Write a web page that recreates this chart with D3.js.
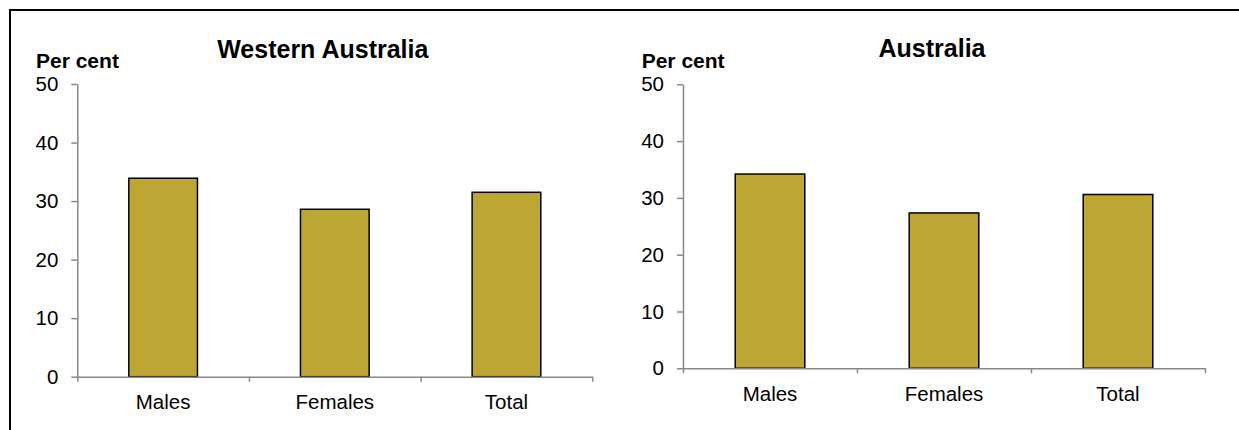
<!DOCTYPE html>
<html>
<head>
<meta charset="utf-8">
<script src="https://cdn.jsdelivr.net/npm/d3@7"></script>
<style>
  html, body { margin: 0; padding: 0; background: #fff; }
  svg { display: block; }
  text { font-family: "Liberation Sans", Arial, sans-serif; fill: #000; }
</style>
</head>
<body>
<svg id="chart" width="1239" height="430"></svg>
<script>
// ---- Data ----
const categories = ["Males", "Females", "Total"];
const waValues = [33.9, 28.6, 31.5];
const ausValues = [34.2, 27.35, 30.6];
const panelTitles = ["Western Australia", "Australia"];
const yTicks = [0, 10, 20, 30, 40, 50];
const yLabel = "Per cent";

// ---- Layout ----
const panels = [
  { title: panelTitles[0], values: waValues, x0: 77.3, x1: 592.3, yTop: 84, yBottom: 376.7, titleY: 58.3 },
  { title: panelTitles[1], values: ausValues, x0: 683, x1: 1205, yTop: 84.3, yBottom: 368.3, titleY: 57.3 }
];

const svg = d3.select("#chart");

// outer frame (left and top visible)
svg.append("rect")
  .attr("x", 10).attr("y", 10)
  .attr("width", 1250).attr("height", 440)
  .attr("fill", "none").attr("stroke", "#000").attr("stroke-width", 2);

const axisColor = "#888888";
const font = '"Liberation Sans", Arial, sans-serif';

panels.forEach(p => {
  const g = svg.append("g");
  const x = d3.scaleBand().domain(categories).range([p.x0, p.x1]).paddingInner(0.6).paddingOuter(0.3);
  const y = d3.scaleLinear().domain([0, 50]).range([p.yBottom, p.yTop]);

  // bars
  g.selectAll("rect.bar").data(categories).join("rect")
    .attr("class", "bar")
    .attr("x", d => x(d))
    .attr("width", x.bandwidth())
    .attr("y", (d, i) => y(p.values[i]))
    .attr("height", (d, i) => y(0) - y(p.values[i]))
    .attr("fill", "#BDA634")
    .attr("stroke", "#000")
    .attr("stroke-width", 1.5);

  // y axis
  const yAxis = g.append("g")
    .attr("transform", `translate(${p.x0},0)`)
    .call(d3.axisLeft(y).tickValues(yTicks).tickSize(6).tickPadding(13).tickSizeOuter(0));
  yAxis.select(".domain").attr("stroke", axisColor).attr("stroke-width", 1.5);
  yAxis.selectAll(".tick line").attr("stroke", axisColor).attr("stroke-width", 1.5);
  yAxis.selectAll("text").style("font-size", "20.5px").attr("fill", "#000")
    .style("font-family", font);

  // x axis: edge ticks
  const edge = d3.scaleLinear().domain([0, categories.length]).range([p.x0, p.x1]);
  const xEdge = g.append("g")
    .attr("transform", `translate(0,${p.yBottom})`)
    .call(d3.axisBottom(edge).tickValues(d3.range(categories.length + 1)).tickFormat("").tickSize(5).tickSizeOuter(0));
  xEdge.select(".domain").attr("stroke", axisColor).attr("stroke-width", 1.5);
  xEdge.selectAll(".tick line").attr("stroke", axisColor).attr("stroke-width", 1.5);

  // x axis labels
  const xLab = g.append("g")
    .attr("transform", `translate(0,${p.yBottom})`)
    .call(d3.axisBottom(x).tickSize(0).tickPadding(18));
  xLab.select(".domain").remove();
  xLab.selectAll("text").style("font-size", "20.5px").attr("fill", "#000")
    .style("font-family", font);

  // y label
  g.append("text")
    .attr("x", p.x0 - 41.3)
    .attr("y", p.yTop - 16.3)
    .style("font-size", "21px")
    .style("font-weight", "bold")
    .text(yLabel);

  // title
  g.append("text")
    .attr("x", (p.x0 + p.x1) / 2 - 12)
    .attr("y", p.titleY)
    .attr("text-anchor", "middle")
    .style("font-size", "25px")
    .style("font-weight", "bold")
    .text(p.title);
});
</script>
</body>
</html>
